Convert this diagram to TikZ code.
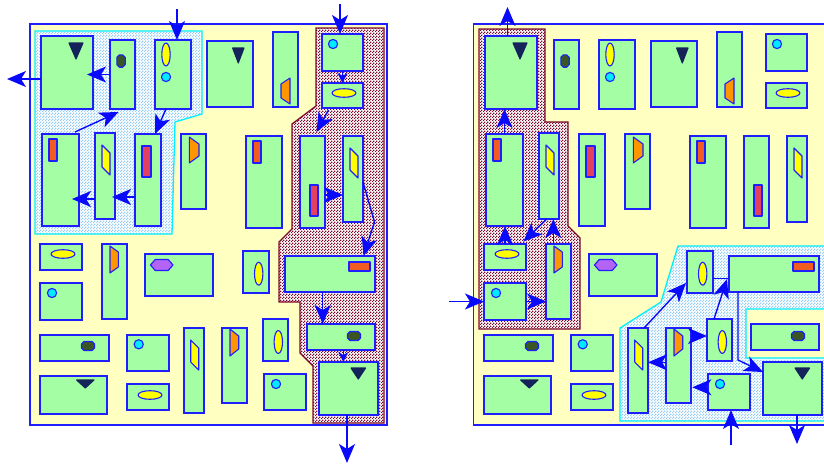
\documentclass[tikz,border=0pt]{standalone}
\usetikzlibrary{arrows.meta,patterns}

\definecolor{bgyellow}{RGB}{255,255,194}
\definecolor{boxgreen}{RGB}{164,255,164}
\definecolor{boxblue}{RGB}{30,30,255}
\definecolor{arrblue}{RGB}{10,10,250}
\definecolor{navyfill}{RGB}{20,35,90}
\definecolor{knobgreen}{RGB}{56,87,35}
\definecolor{ambertrap}{RGB}{255,150,0}
\definecolor{rustbar}{RGB}{242,92,32}
\definecolor{rosebar}{RGB}{226,64,92}
\definecolor{violetgem}{RGB}{180,100,245}
\definecolor{lemon}{RGB}{255,255,0}
\definecolor{aqua}{RGB}{0,235,255}
\definecolor{zonered}{RGB}{125,10,45}
\definecolor{zonecyan}{RGB}{0,240,255}
\definecolor{mistdot}{RGB}{150,205,245}

% fine checker used as a speckled texture
\pgfdeclarepatternformonly{speckle}{\pgfqpoint{0pt}{0pt}}{\pgfqpoint{3pt}{3pt}}{\pgfqpoint{3pt}{3pt}}{%
  \pgfpathrectangle{\pgfqpoint{0pt}{0pt}}{\pgfqpoint{1.5pt}{1.5pt}}%
  \pgfpathrectangle{\pgfqpoint{1.5pt}{1.5pt}}{\pgfqpoint{1.5pt}{1.5pt}}%
  \pgfusepath{fill}}

% box: prefix, name, x1, y1, x2, y2
\newcommand{\bx}[6]{\node[box,minimum width={#5-#3},minimum height={#6-#4}] (#1-#2) at ({(#3+#5)/2},{(#4+#6)/2}) {};}
% glyphs drawn inside the boxes
\newcommand{\tri}[4]{\filldraw[glyph,fill=navyfill,draw=navyfill] ({#1-#2},#3) -- ({#1+#2},#3) -- (#1,#4) -- cycle;}
\newcommand{\vell}[2]{\filldraw[glyph,fill=lemon] (#1,#2) ellipse [x radius=4.2, y radius=11.5];}
\newcommand{\hell}[2]{\filldraw[glyph,fill=lemon] (#1,#2) ellipse [x radius=12, y radius=4.3];}
\newcommand{\aquadot}[2]{\filldraw[glyph,fill=aqua] (#1,#2) circle [radius=4.6];}
\newcommand{\octo}[5]{\filldraw[glyph,fill=knobgreen] ({#1-#3+#5},{#2-#4}) -- ({#1+#3-#5},{#2-#4}) -- ({#1+#3},{#2-#4+#5}) -- ({#1+#3},{#2+#4-#5}) -- ({#1+#3-#5},{#2+#4}) -- ({#1-#3+#5},{#2+#4}) -- ({#1-#3},{#2+#4-#5}) -- ({#1-#3},{#2-#4+#5}) -- cycle;}
\newcommand{\para}[5]{\filldraw[glyph,fill=lemon] (#1,#3) -- (#2,{#3+#5}) -- (#2,{#3+#5+#4}) -- (#1,{#3+#4}) -- cycle;}
\newcommand{\trap}[5]{\filldraw[glyph,fill=ambertrap] (#1,#3) -- (#2,{#3+#5}) -- (#2,{#4-#5}) -- (#1,#4) -- cycle;}
\newcommand{\slab}[5]{\filldraw[glyph,fill=#1] (#2,#3) rectangle (#4,#5);}
\newcommand{\hexa}[2]{\filldraw[glyph,fill=violetgem] ({#1-11.3},#2) -- ({#1-6.5},{#2-5.5}) -- ({#1+6.5},{#2-5.5}) -- ({#1+11.3},#2) -- ({#1+6.5},{#2+5.5}) -- ({#1-6.5},{#2+5.5}) -- cycle;}

% the common set of boxes of one panel
\newcommand{\panelboxes}[1]{%
  \bx{#1}{a1}{41}{36}{93}{109}
  \bx{#1}{a2}{110}{40}{135}{109}
  \bx{#1}{a3}{155}{40}{191}{109}
  \bx{#1}{a4}{207}{41}{253}{107}
  \bx{#1}{a5}{273}{32}{298}{107}
  \bx{#1}{b1}{322}{34}{363}{71}
  \bx{#1}{b2}{322}{83}{363}{108}
  \bx{#1}{c1}{42}{134}{79}{226}
  \bx{#1}{c2}{95}{133}{115}{219}
  \bx{#1}{c3}{135}{134}{161}{226}
  \bx{#1}{c4}{181}{134}{206}{209}
  \bx{#1}{c5}{246}{136}{282}{228}
  \bx{#1}{c6}{300}{136}{325}{228}
  \bx{#1}{c7}{343}{136}{363}{222}
  \bx{#1}{d1}{40}{244}{82}{270}
  \bx{#1}{d2}{102}{244}{127}{319}
  \bx{#1}{d3}{145}{254}{213}{296}
  \bx{#1}{d4}{243}{251}{269}{293}
  \bx{#1}{e1}{285}{256}{375}{292}
  \bx{#1}{d5}{40}{283}{82}{320}
  \bx{#1}{f1}{40}{335}{109}{361}
  \bx{#1}{f2}{127}{335}{169}{371}
  \bx{#1}{f3}{184}{328}{204}{413}
  \bx{#1}{f4}{222}{328}{247}{403}
  \bx{#1}{f5}{263}{319}{288}{361}
  \bx{#1}{e2}{307}{324}{375}{350}
  \bx{#1}{g1}{40}{376}{107}{414}
  \bx{#1}{g2}{127}{384}{169}{410}
  \bx{#1}{g3}{264}{374}{306}{410}
  \bx{#1}{e3}{319}{362}{378}{415}
  % glyphs
  \tri{76}{7}{43}{59}
  \octo{121}{61}{4.2}{6.2}{2.5}
  \vell{166}{54.5}
  \aquadot{166}{77}
  \tri{238.3}{5.7}{48}{63}
  \trap{290}{281}{78}{104}{6}
  \aquadot{333}{44}
  \hell{344}{93}
  \slab{rustbar}{49}{139}{57}{161}
  \para{102}{110}{145}{22}{8}
  \slab{rosebar}{142}{146}{151}{177}
  \trap{189.3}{199}{137}{163}{7}
  \slab{rustbar}{253}{141}{261}{163}
  \slab{rosebar}{310}{185}{318}{216}
  \para{350}{358}{148}{22}{8}
  \hell{63}{254}
  \trap{110}{118.3}{246}{273}{6}
  \hexa{161.7}{265}
  \vell{258.7}{273.7}
  \slab{rustbar}{349}{262}{370}{271}
  \aquadot{52}{293}
  \octo{88}{346}{6.5}{4.5}{2.5}
  \aquadot{138.7}{344.3}
  \para{190.7}{198.7}{340}{22}{8}
  \trap{230}{238.7}{329}{356}{7}
  \vell{278.3}{342}
  \octo{354}{336}{6.5}{4.5}{2.5}
  \tri{85.3}{8.7}{380}{388}
  \hell{150}{395}
  \aquadot{276}{384}
  \tri{358.3}{7.3}{368}{379}
}

\begin{document}
\begin{tikzpicture}[x=1pt,y=-1pt,
  box/.style={rectangle,draw=boxblue,fill=boxgreen,line width=1.6pt,inner sep=0pt,outer sep=0pt},
  frame/.style={draw=boxblue,fill=bgyellow,line width=1.4pt},
  glyph/.style={draw=boxblue,line width=1.1pt,line join=round},
  hatchzone/.style={draw=zonered,line width=1.3pt},
  mistzone/.style={draw=zonecyan,line width=1.3pt},
  conn/.style={draw=arrblue,line width=1.4pt},
  arr/.style={conn,-{Stealth[length=19pt,width=16pt,inset=5pt]}},
  sarr/.style={conn,-{Stealth[length=10pt,width=10pt,inset=3pt]}}]

\useasboundingbox (0,0) rectangle (824,466);
\clip (0,0) rectangle (824,466);

% ---------------- left panel ----------------
\draw[frame] (30,24) rectangle (387,425);
\fill[white] (35,31) -- (202,31) -- (202,114) -- (175,122) -- (172,234) -- (35,234) -- cycle;
\fill[pattern=speckle,pattern color=mistdot] (35,31) -- (202,31) -- (202,114) -- (175,122) -- (172,234) -- (35,234) -- cycle;
\draw[mistzone] (35,31) -- (202,31) -- (202,114) -- (175,122) -- (172,234) -- (35,234) -- cycle;
\fill[white] (316,28) -- (384,28) -- (384,423) -- (313,423) -- (313,366) -- (300,353) -- (300,302) -- (279,302) -- (279,242) -- (292,229) -- (292,124) -- (316,106) -- cycle;
\fill[pattern=speckle,pattern color=zonered] (316,28) -- (384,28) -- (384,423) -- (313,423) -- (313,366) -- (300,353) -- (300,302) -- (279,302) -- (279,242) -- (292,229) -- (292,124) -- (316,106) -- cycle;
\draw[hatchzone] (316,28) -- (384,28) -- (384,423) -- (313,423) -- (313,366) -- (300,353) -- (300,302) -- (279,302) -- (279,242) -- (292,229) -- (292,124) -- (316,106) -- cycle;

\panelboxes{L}

\coordinate (L-in1) at (177,9);
\coordinate (L-in2) at (340,4);
\coordinate (L-out1) at (7,79);
\coordinate (L-out2) at (347,463);
\coordinate (L-bend) at (374.5,222);

\draw[arr] (L-in1) -- (L-in1 |- L-a3.north);
\draw[arr] (L-out1 -| L-a1.west) -- (L-out1);
\draw[arr,shorten >=-6pt] (L-a2.west) -- (L-a2.west -| L-a1.east);
\draw[arr] ([xshift=14.5pt,yshift=2pt]L-c1.north) -- ([xshift=-4pt,yshift=-3pt]L-a2.south);
\draw[arr] ([xshift=-7pt]L-a3.south) -- ([xshift=7pt]L-c3.north);
\draw[arr,shorten >=-7pt] ([yshift=-23pt]L-c2.west) -- ([yshift=-19pt]L-c1.east);
\draw[arr,shorten >=-3pt] ([yshift=-17pt]L-c3.west) -- ([yshift=-21pt]L-c2.east);
\draw[arr] (L-in2) -- (L-in2 |- L-b1.north);
\draw[sarr] (L-b1.south) -- (L-b2.north);
\draw[arr] ([xshift=-14pt,yshift=-2pt]L-b2.south) -- ([xshift=4pt,yshift=4pt]L-c6.north);
\draw[arr] ([yshift=-13pt]L-c6.east) -- ([yshift=-16pt]L-c7.west);
\draw[arr] ([yshift=-3pt]L-c7.east) -- (L-bend) -- ([xshift=33.5pt]L-e1.north);
\draw[arr] ([xshift=-7.3pt]L-e1.south) -- ([xshift=-18.3pt]L-e2.north);
\draw[sarr] ([xshift=2.3pt]L-e2.south) -- ([xshift=-5.2pt]L-e3.north);
\draw[arr] (L-out2 |- L-e3.south) -- (L-out2);

% ---------------- right panel ----------------
\draw[frame] (473.5,24) rectangle (831,425);
\fill[white] (479,29) -- (545,29) -- (545,122) -- (568,122) -- (568,226) -- (580,238) -- (580,329) -- (479,329) -- cycle;
\fill[pattern=speckle,pattern color=zonered] (479,29) -- (545,29) -- (545,122) -- (568,122) -- (568,226) -- (580,238) -- (580,329) -- (479,329) -- cycle;
\draw[hatchzone] (479,29) -- (545,29) -- (545,122) -- (568,122) -- (568,226) -- (580,238) -- (580,329) -- (479,329) -- cycle;
\fill[white] (620,421) -- (620,328) -- (661,302) -- (678,246) -- (828,246) -- (828,309) -- (746,309) -- (746,358) -- (828,358) -- (828,421) -- cycle;
\fill[pattern=speckle,pattern color=mistdot] (620,421) -- (620,328) -- (661,302) -- (678,246) -- (828,246) -- (828,309) -- (746,309) -- (746,358) -- (828,358) -- (828,421) -- cycle;
\draw[mistzone] (620,421) -- (620,328) -- (661,302) -- (678,246) -- (828,246) -- (828,309) -- (746,309) -- (746,358) -- (828,358) -- (828,421) -- cycle;

\begin{scope}[xshift=444pt]
\panelboxes{R}
\end{scope}

\coordinate (R-out1) at (507.5,7);
\coordinate (R-in1) at (449,301.5);
\coordinate (R-in2) at (731,445);
\coordinate (R-out2) at (797,444);
\coordinate (R-bend) at (738,360);

\draw[arr] (R-out1 |- R-a1.north) -- (R-out1);
\draw[arr] (R-c1.north) -- (R-c1.north |- R-a1.south);
\draw[arr] (R-d1.north) -- (R-d1.north |- R-c1.south);
\draw[arr] ([xshift=-2.3pt]R-c2.south) -- ([xshift=18.3pt,yshift=2.3pt]R-d1.north);
\draw[arr] ([xshift=-5.2pt]R-d2.north) -- ([xshift=4.3pt]R-c2.south);
\draw[arr] (R-d5.east) -- (R-d5.east -| R-d2.west);
\draw[arr] (R-in1) -- (R-in1 -| R-d5.west);
\draw[arr] ([xshift=6pt]R-f3.north) -- ([xshift=-1pt,yshift=10pt]R-d4.south west);
\draw[conn] ([yshift=-6.3pt]R-d4.east) -- ([yshift=-4.3pt]R-e1.west);
\draw[arr] ([xshift=-5.5pt]R-f5.north) -- ([xshift=-2pt,yshift=-5pt]R-e1.west);
\draw[arr] ([xshift=-36pt]R-e1.south) -- (R-bend) -- ([yshift=-10pt]R-e3.north west);
\draw[arr] ([yshift=3.2pt]R-f4.west) -- ([yshift=8.2pt]R-f3.east);
\draw[arr] ([yshift=29.5pt]R-f4.east) -- ([yshift=4pt]R-f5.west);
\draw[arr] ([yshift=4.7pt]R-g3.west) -- ([xshift=1.3pt,yshift=-21.8pt]R-f4.east);
\draw[arr] (R-in2) -- (R-in2 |- R-g3.south);
\draw[arr] (R-out2 |- R-e3.south) -- (R-out2);

\end{tikzpicture}
\end{document}
